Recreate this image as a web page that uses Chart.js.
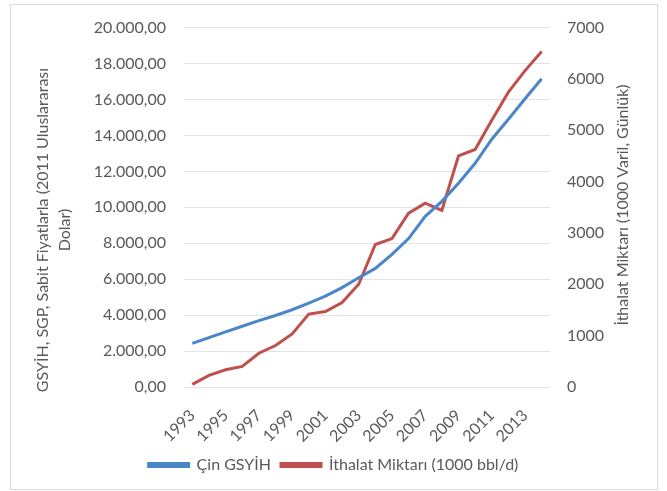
<!DOCTYPE html>
<html>
<head>
<meta charset="utf-8">
<script src="https://cdn.jsdelivr.net/npm/chart.js@4/dist/chart.umd.min.js"></script>
<style>
    body { margin: 0; background: #fff; }
    #frame {
        position: absolute; left: 10px; top: 4px;
        width: 646px; height: 484px;
        border: 1px solid #d9d9d9;
    }
    #wrap { position: absolute; left: 0; top: 0; width: 667px; height: 491px; }
</style>
</head>
<body>
<div id="frame"></div>
<div id="wrap"><canvas id="chart" width="667" height="491"></canvas></div>
<script>
// =======================
// DATA
// =======================
const years = ["1993", "1994", "1995", "1996", "1997", "1998", "1999", "2000", "2001", "2002", "2003",
    "2004", "2005", "2006", "2007", "2008", "2009", "2010", "2011", "2012", "2013", "2014"];

// Çin GSYİH (sol eksen)
const gdpValues = [2430, 2750, 3070, 3380, 3690, 3980, 4300, 4670, 5060, 5530, 6080,
    6600, 7380, 8260, 9500, 10330, 11340, 12450, 13790, 14900, 16040, 17150];

// İthalat miktarı (sağ eksen)
const importValues = [50, 226, 336, 400, 658, 807, 1033, 1420, 1471, 1645, 2001,
    2775, 2891, 3387, 3581, 3439, 4503, 4626, 5194, 5742, 6162, 6536];

const leftTickLabels = ["0,00", "2.000,00", "4.000,00", "6.000,00", "8.000,00", "10.000,00",
    "12.000,00", "14.000,00", "16.000,00", "18.000,00", "20.000,00"];
const rightTickLabels = ["0", "1000", "2000", "3000", "4000", "5000", "6000", "7000"];

const leftTitle = ["GSYİH, SGP, Sabit Fiyatlarla (2011 Uluslararası", "Dolar)"];
const rightTitle = "İthalat Miktarı (1000 Varil, Günlük)";

const TEXT = '#595959';
const FONT = 'Lato, "Open Sans", sans-serif';

// axis titles (right one reads bottom-to-top, like the left one)
const axisTitles = {
    id: 'axisTitles',
    afterDraw(chart) {
        const ctx = chart.ctx;
        const midY = 230;
        ctx.save();
        ctx.fillStyle = TEXT;
        ctx.font = '16px ' + FONT;
        ctx.textAlign = 'center';
        ctx.textBaseline = 'middle';
        [[43, leftTitle[0]], [65, leftTitle[1]]].forEach(([x, t]) => {
            ctx.save();
            ctx.translate(x, midY);
            ctx.rotate(-Math.PI / 2);
            ctx.fillText(t, 0, 0);
            ctx.restore();
        });
        ctx.translate(623, 205);
        ctx.rotate(-Math.PI / 2);
        ctx.fillText(rightTitle, 0, 0);
        ctx.restore();
    }
};

const ctx = document.getElementById("chart").getContext("2d");

new Chart(ctx, {
    type: 'line',
    data: {
        labels: years,
        datasets: [
            {
                label: 'Çin GSYİH',
                data: gdpValues,
                yAxisID: 'y',
                borderColor: '#4a86c8',
                backgroundColor: '#4a86c8',
                borderWidth: 3,
                pointRadius: 0,
                tension: 0,
                fill: false
            },
            {
                label: 'İthalat Miktarı (1000 bbl/d)',
                data: importValues,
                yAxisID: 'y2',
                borderColor: '#c0504d',
                backgroundColor: '#c0504d',
                borderWidth: 3,
                pointRadius: 0,
                tension: 0,
                fill: false
            }
        ]
    },
    options: {
        responsive: false,
        animation: false,
        layout: { padding: { top: 23, bottom: 8, left: 0, right: 0 } },
        plugins: {
            legend: {
                position: 'bottom',
                labels: {
                    color: TEXT,
                    font: { family: FONT, size: 16 },
                    boxWidth: 40,
                    boxHeight: 3,
                    padding: 10
                }
            },
            tooltip: { enabled: false }
        },
        scales: {
            x: {
                offset: true,
                grid: { display: false },
                border: { display: false },
                ticks: {
                    color: TEXT,
                    font: { family: FONT, size: 16 },
                    autoSkip: false,
                    minRotation: 45,
                    maxRotation: 45,
                    padding: 11,
                    callback: (v, i) => (i % 2 === 0 ? years[i] : '')
                },
                afterFit: (s) => { s.height = 60; }
            },
            y: {
                position: 'left',
                min: 0,
                max: 20000,
                grid: { color: '#e3e3e3', lineWidth: 1, drawTicks: false },
                border: { display: false },
                ticks: {
                    stepSize: 2000,
                    color: TEXT,
                    font: { family: FONT, size: 16 },
                    padding: 18,
                    callback: (v) => leftTickLabels[Math.round(v / 2000)]
                },
                afterFit: (s) => { s.width = 184; }
            },
            y2: {
                position: 'right',
                min: 0,
                max: 7000,
                grid: { display: false, drawTicks: false },
                border: { display: false },
                ticks: {
                    stepSize: 1000,
                    color: TEXT,
                    font: { family: FONT, size: 16 },
                    padding: 17,
                    callback: (v) => rightTickLabels[Math.round(v / 1000)]
                },
                afterFit: (s) => { s.width = 117; }
            }
        }
    },
    plugins: [axisTitles]
});
</script>
</body>
</html>
